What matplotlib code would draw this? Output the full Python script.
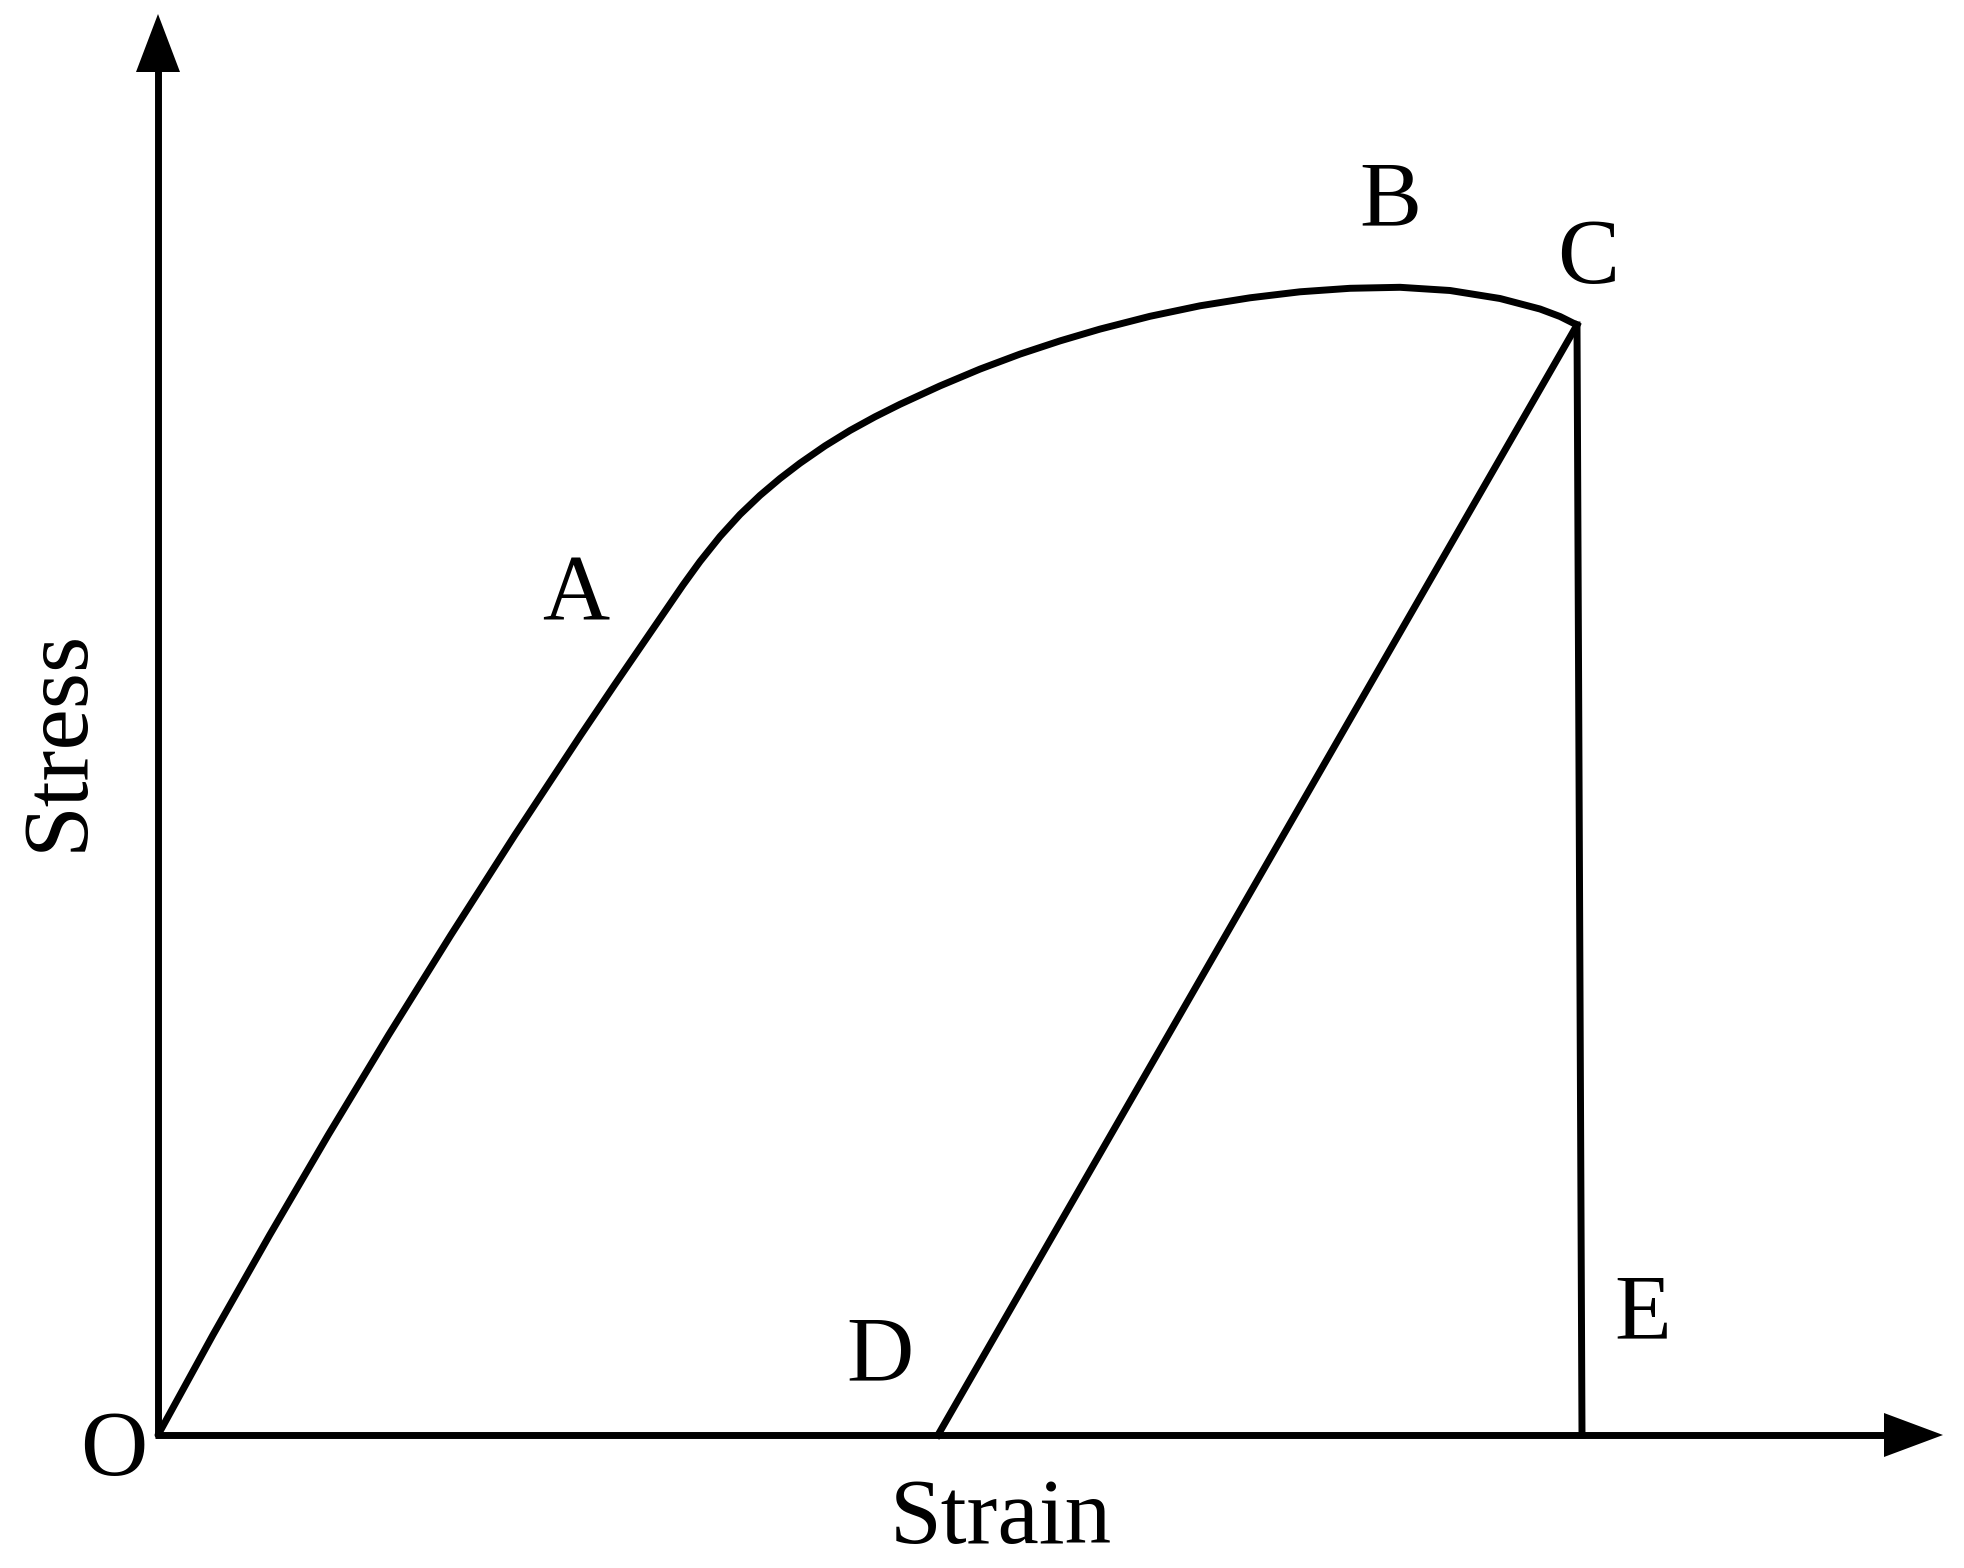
import matplotlib
matplotlib.use("Agg")
import matplotlib.pyplot as plt

# ---- data (arbitrary units; origin O at 0,0) ----
loading_strain = [0.000, 0.549, 1.117, 1.702, 2.306, 2.929, 3.569, 4.228, 4.565, 5.25, 5.42,
                  5.62, 5.82, 6.02, 6.22, 6.42,
                  6.67, 6.92, 7.17, 7.42, 7.82, 8.22, 8.62, 9.02, 9.42, 9.92, 10.42,
                  10.92, 11.42, 11.92, 12.42, 12.92, 13.42, 13.82, 14.02, 14.19]
loading_stress = [0.000, 1.000, 2.000, 3.000, 4.000, 5.000, 6.000, 7.000, 7.500, 8.500, 8.735,
                  8.985, 9.205, 9.396, 9.565, 9.718,
                  9.891, 10.045, 10.182, 10.307, 10.491, 10.659, 10.809, 10.941, 11.059, 11.187, 11.292,
                  11.372, 11.432, 11.467, 11.477, 11.445, 11.365, 11.260, 11.185, 11.100]
unload_strain = [14.19, 7.80]     # C -> D
unload_stress = [11.10, 0.00]
fracture_strain = [14.19, 14.24]  # C -> E
fracture_stress = [11.10, 0.00]

axis_strain_max = 17.85   # x-axis arrow tip
axis_stress_max = 14.21   # y-axis arrow tip

point_labels = ["A", "B", "C", "D", "E", "O"]
label_strain = [4.18, 12.32, 14.30, 7.22, 14.85, -0.44]
label_stress = [8.15, 12.10, 11.52, 0.55, 0.97, -0.40]

xlabel_text = "Strain"
ylabel_text = "Stress"

# ---- figure ----
W, H, DPI = 1964, 1568, 100
fig = plt.figure(figsize=(W / DPI, H / DPI), dpi=DPI)
ax = fig.add_axes([0, 0, 1, 1])
ax.set_xlim(-1.58, 18.06)
ax.set_ylim(-1.33, 14.35)
ax.axis("off")

lw = 5.0
font = dict(family="Liberation Serif", fontsize=67, color="black")

# axes lines
ax.plot([-0.03, axis_strain_max - 0.5], [0, 0], color="black", lw=lw, solid_capstyle="butt")
ax.plot([0, 0], [0, axis_stress_max - 0.5], color="black", lw=lw, solid_capstyle="butt")

# arrowheads
ah_len, ah_half = 0.59, 0.22
ax.fill([axis_strain_max - ah_len, axis_strain_max, axis_strain_max - ah_len],
        [-ah_half, 0, ah_half], color="black", lw=0)
ax.fill([-ah_half, 0, ah_half],
        [axis_stress_max - 0.58, axis_stress_max, axis_stress_max - 0.58], color="black", lw=0)

# curves
ax.plot(loading_strain, loading_stress, color="black", lw=lw,
        solid_joinstyle="round", solid_capstyle="round")
ax.plot(unload_strain, unload_stress, color="black", lw=lw)
ax.plot(fracture_strain, fracture_stress, color="black", lw=lw)

# point labels
for t, x, y in zip(point_labels, label_strain, label_stress):
    ax.text(x, y, t, ha="center", va="baseline", **font)

ax.text(8.43, -1.08, xlabel_text, ha="center", va="baseline", **font)
ax.text(-0.76, 6.95, ylabel_text, ha="center", va="baseline", rotation=90,
        rotation_mode="anchor", **font)

fig.savefig("out.png", dpi=DPI, facecolor="white")
